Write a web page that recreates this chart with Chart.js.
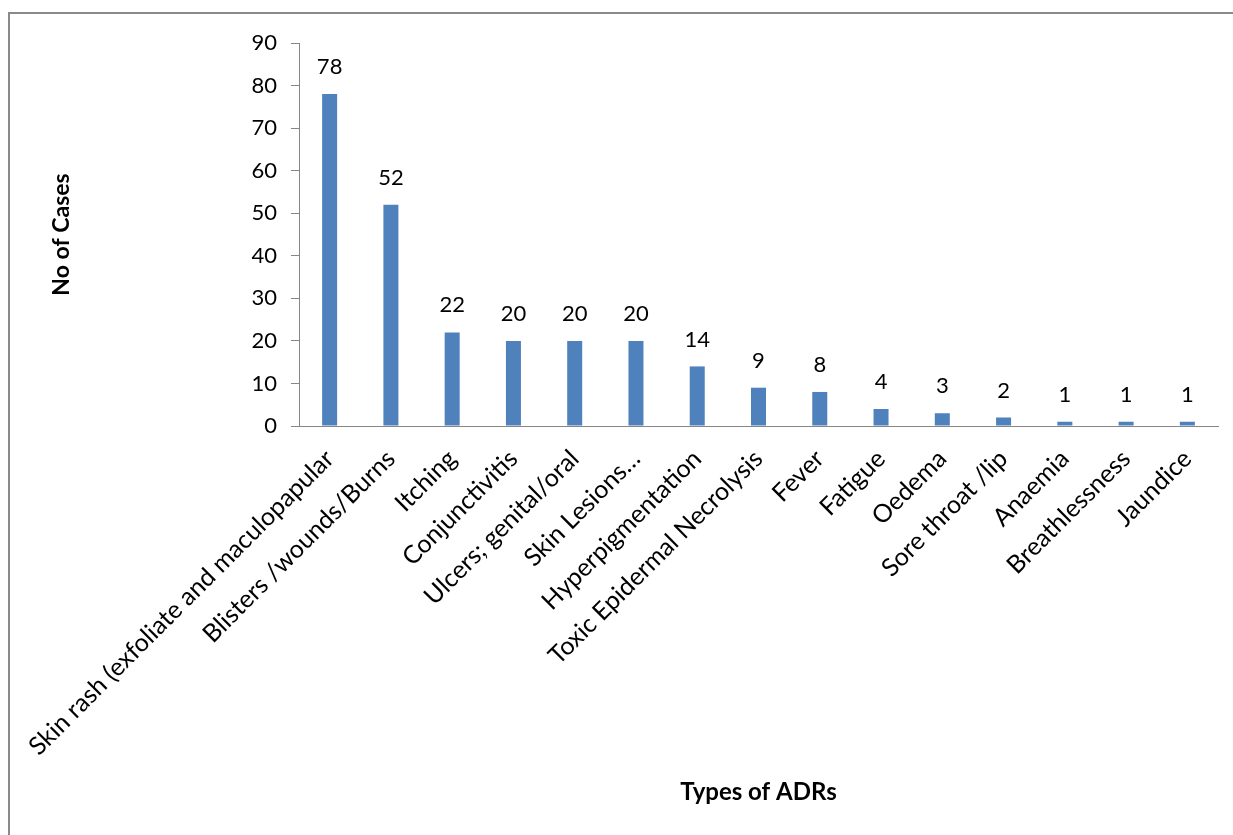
<!DOCTYPE html>
<html>
<head>
<meta charset="utf-8">
<script src="https://cdn.jsdelivr.net/npm/chart.js@4.4.1/dist/chart.umd.min.js"></script>
<style>
  html, body { margin: 0; padding: 0; background: #fff; overflow: hidden; }
  #frame { position: absolute; left: 8px; top: 12px; width: 2000px; height: 2000px;
           border-top: 2px solid #8a8a8a; border-left: 2px solid #8a8a8a; box-sizing: border-box; }
  #c { position: absolute; left: 0; top: 0; }
</style>
</head>
<body>
<div id="frame"></div>
<canvas id="c" width="1233" height="835"></canvas>
<script>
const categories = [
  "Skin rash (exfoliate and maculopapular",
  "Blisters /wounds/Burns",
  "Itching",
  "Conjunctivitis",
  "Ulcers; genital/oral",
  "Skin Lesions…",
  "Hyperpigmentation",
  "Toxic Epidermal Necrolysis",
  "Fever",
  "Fatigue",
  "Oedema",
  "Sore throat /lip",
  "Anaemia",
  "Breathlessness",
  "Jaundice"
];
const cases = [78, 52, 22, 20, 20, 20, 14, 9, 8, 4, 3, 2, 1, 1, 1];
const yTicks = [0, 10, 20, 30, 40, 50, 60, 70, 80, 90];
const yAxisTitle = "No of Cases";
const xAxisTitle = "Types of ADRs";

const FONT = "Lato, 'Open Sans', sans-serif";

const valueLabels = {
  id: 'valueLabels',
  afterDatasetsDraw(chart) {
    const ctx = chart.ctx;
    const meta = chart.getDatasetMeta(0);
    ctx.save();
    ctx.font = "22px " + FONT;
    ctx.fillStyle = "#000";
    ctx.textAlign = "center";
    ctx.textBaseline = "middle";
    meta.data.forEach((bar, i) => {
      ctx.fillText(String(cases[i]), bar.x, bar.y - 27);
    });
    ctx.restore();
  }
};

new Chart(document.getElementById('c'), {
  type: 'bar',
  data: {
    labels: categories,
    datasets: [{
      data: cases,
      backgroundColor: '#4F81BD',
      borderWidth: 0,
      barPercentage: 0.245,
      categoryPercentage: 1.0
    }]
  },
  options: {
    responsive: false,
    animation: false,
    devicePixelRatio: 1,
    layout: { padding: { left: 48, right: 15, top: 43, bottom: 28 } },
    plugins: { legend: { display: false }, tooltip: { enabled: false } },
    scales: {
      x: {
        afterFit(scale) { scale.height = 381; },
        grid: { display: false },
        border: { display: true, color: '#868686', width: 1 },
        ticks: {
          color: '#000', font: { family: FONT, size: 25 },
          maxRotation: 45, minRotation: 45, autoSkip: false, padding: 10
        },
        title: {
          display: true, text: xAxisTitle, color: '#000',
          font: { family: FONT, size: 24, weight: 'bold' }, padding: 0
        }
      },
      y: {
        min: 0, max: 90,
        afterFit(scale) { scale.width = 251; },
        afterBuildTicks(scale) { scale.ticks = yTicks.map(v => ({ value: v })); },
        grid: { display: true, drawOnChartArea: false, drawTicks: true, tickLength: 8, color: '#868686' },
        border: { display: true, color: '#868686', width: 1 },
        ticks: { color: '#000', font: { family: FONT, size: 22 }, padding: 14 },
        title: {
          display: true, text: yAxisTitle, color: '#000',
          font: { family: FONT, size: 23, weight: 'bold' }, padding: 0
        }
      }
    }
  },
  plugins: [valueLabels]
});
</script>
</body>
</html>
